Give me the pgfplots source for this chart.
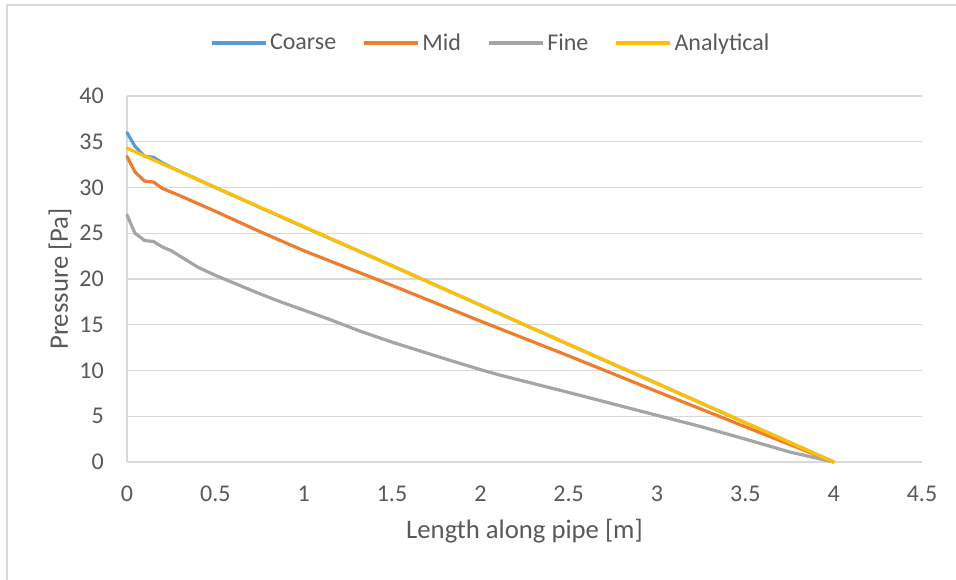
\documentclass[border=0pt]{standalone}
\usepackage{pgfplots}
\pgfplotsset{compat=1.18}
\usepackage{fontspec}
\setmainfont{Carlito}

\definecolor{txt}{HTML}{595959}
\definecolor{gridc}{HTML}{D9D9D9}
\definecolor{coarse}{HTML}{5B9BD5}
\definecolor{mid}{HTML}{ED7D31}
\definecolor{fine}{HTML}{A5A5A5}
\definecolor{analytic}{HTML}{FFC000}

\newcommand{\ticksize}{\fontsize{24bp}{28bp}\selectfont}
\newcommand{\titlesize}{\fontsize{26.7bp}{31bp}\selectfont}

\begin{document}
\begin{tikzpicture}
\useasboundingbox (0bp,0bp) rectangle (956bp,580bp);
% chart frame (top and left edges)
\draw[gridc, line width=2bp] (6.5bp,0bp) -- (6.5bp,575bp) -- (956bp,575bp);
\begin{axis}[
  at={(127bp,118bp)}, anchor=south west,
  scale only axis, width=795bp, height=366bp,
  xmin=0, xmax=4.5, ymin=0, ymax=40,
  xtick={0,0.5,1,1.5,2,2.5,3,3.5,4,4.5},
  ytick={0,5,10,15,20,25,30,35,40},
  /pgf/number format/assume math mode=true,
  /pgf/number format/fixed,
  axis x line*=bottom, axis y line*=left,
  x axis line style={-, draw=gridc, line width=1.3bp},
  y axis line style={-, draw=gridc, line width=1.3bp},
  major tick length=0pt,
  ymajorgrids,
  grid style={draw=gridc, line width=1.3bp},
  tick label style={font=\ticksize, text=txt, inner sep=0pt},
  yticklabel style={anchor=east, xshift=-23bp},
  xticklabel style={anchor=north, yshift=-24bp},
  xlabel={Length along pipe [m]},
  ylabel={Pressure [Pa]},
  every axis x label/.style={at={(axis description cs:0.5,-0.1885)}, anchor=center,
    font=\titlesize, text=txt},
  every axis y label/.style={at={(axis description cs:-0.0843,0.5)}, anchor=center,
    rotate=90, font=\titlesize, text=txt},
  clip=false,
  every axis plot/.append style={line width=3.2bp, line join=round, line cap=round, no markers},
  legend columns=4,
  legend style={
    at={(axis description cs:0.458,1.145)}, anchor=center,
    draw=none, fill=none, font=\ticksize, text=txt,
    nodes={inner sep=2.5bp},
    /tikz/every even column/.append style={column sep=24bp},
  },
  legend image code/.code={\draw[#1, line cap=butt] (0bp,0bp) -- (54bp,0bp);},
]
% coarse mesh
\addplot[coarse] coordinates {
  (0,36.0) (0.045,34.5) (0.1,33.4) (0.15,33.3) (0.2,32.7) (0.25,32.2)
  (0.5,30.0) (1,25.7) (1.5,21.45) (2,17.15) (2.5,12.85) (3,8.58) (3.5,4.29) (4,0)
};
% mid mesh
\addplot[mid] coordinates {
  (0,33.4) (0.045,31.7) (0.1,30.7) (0.15,30.6) (0.2,29.9) (0.25,29.5) (0.3,29.1)
  (0.5,27.4) (0.75,25.2) (1,23.1) (1.5,19.3) (2,15.4) (2.5,11.6) (3,7.7) (3.5,3.85) (4,0)
};
% fine mesh
\addplot[fine] coordinates {
  (0,27.0) (0.045,25.0) (0.1,24.2) (0.15,24.1) (0.2,23.5) (0.25,23.1) (0.3,22.5)
  (0.4,21.3) (0.5,20.4) (0.6,19.6) (0.75,18.4) (0.87,17.5) (1,16.6) (1.13,15.7)
  (1.32,14.3) (1.5,13.1) (1.83,11.1) (2,10.1) (2.11,9.5) (2.5,7.6) (2.68,6.7)
  (3,5.1) (3.25,3.86) (3.5,2.5) (3.75,1.1) (4,0)
};
% analytical solution
\addplot[analytic] coordinates {
  (0,34.3) (0.5,30.01) (1,25.73) (1.5,21.44) (2,17.15) (2.5,12.86) (3,8.58) (3.5,4.29) (4,0)
};
\legend{Coarse, Mid, Fine, Analytical}
\end{axis}
\end{tikzpicture}
\end{document}
